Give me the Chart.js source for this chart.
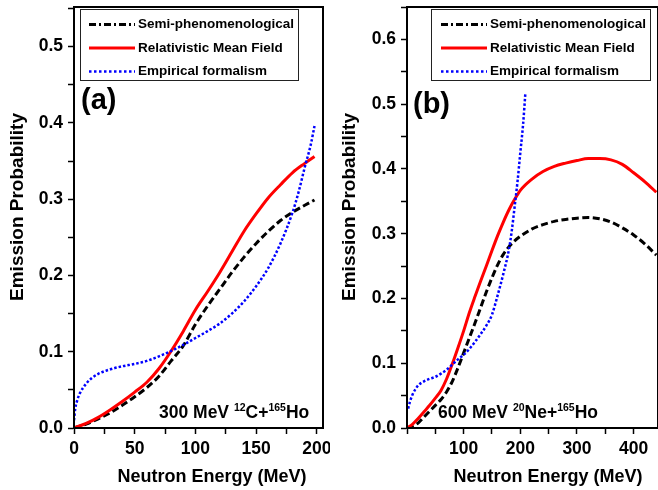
<!DOCTYPE html>
<html>
<head>
<meta charset="utf-8">
<script src="https://cdn.jsdelivr.net/npm/chart.js@4/dist/chart.umd.min.js"></script>
<style>
  html, body { margin: 0; padding: 0; background: #fff; }
  #wrap { position: relative; width: 658px; height: 490px; overflow: hidden; }
  canvas { position: absolute; top: 0; }
  #chartA { left: 0; }
  #chartB { left: 330px; }
</style>
</head>
<body>
<div id="wrap">
  <canvas id="chartA" width="330" height="490"></canvas>
  <canvas id="chartB" width="328" height="490"></canvas>
</div>
<script>
// panel (a) – 300 MeV 12C + 165Ho
const energyA = [0, 10, 20, 30, 40, 50, 60, 70, 80, 90, 100, 110, 120, 130, 140, 150, 160, 170, 180, 190, 198];
const semiA = [0, 0.005, 0.012, 0.020, 0.030, 0.041, 0.053, 0.068, 0.088, 0.108, 0.136, 0.160, 0.182, 0.204, 0.224, 0.242, 0.258, 0.272, 0.283, 0.292, 0.299];
const rmfA = [0, 0.006, 0.014, 0.024, 0.035, 0.047, 0.060, 0.078, 0.101, 0.127, 0.155, 0.179, 0.204, 0.231, 0.258, 0.281, 0.302, 0.319, 0.335, 0.347, 0.356];
const energyEmpA = [0, 1, 3, 5, 10, 15, 20, 30, 40, 50, 60, 70, 80, 90, 100, 110, 120, 130, 140, 150, 160, 170, 180, 185, 190, 195, 198];
const empA = [0.010, 0.025, 0.038, 0.046, 0.058, 0.066, 0.071, 0.077, 0.081, 0.084, 0.088, 0.094, 0.101, 0.109, 0.118, 0.127, 0.137, 0.150, 0.166, 0.186, 0.210, 0.242, 0.283, 0.310, 0.342, 0.372, 0.396];

// panel (b) – 600 MeV 20Ne + 165Ho
const energyB = [0, 10, 20, 30, 40, 50, 60, 70, 80, 90, 100, 110, 120, 130, 140, 150, 160, 170, 180, 190, 200, 220, 240, 260, 280, 300, 320, 340, 360, 380, 400, 420, 440];
const semiB = [0, 0.003, 0.008, 0.017, 0.026, 0.035, 0.044, 0.056, 0.072, 0.093, 0.116, 0.139, 0.162, 0.186, 0.210, 0.232, 0.252, 0.268, 0.280, 0.289, 0.296, 0.307, 0.314, 0.319, 0.322, 0.324, 0.325, 0.323, 0.318, 0.309, 0.298, 0.284, 0.267];
const rmfB = [0, 0.006, 0.015, 0.025, 0.035, 0.046, 0.058, 0.076, 0.099, 0.124, 0.150, 0.178, 0.203, 0.227, 0.250, 0.274, 0.297, 0.318, 0.337, 0.353, 0.367, 0.384, 0.396, 0.404, 0.409, 0.413, 0.416, 0.416, 0.414, 0.407, 0.394, 0.380, 0.364];
const energyEmpB = [2, 5, 10, 15, 20, 30, 40, 50, 60, 70, 80, 90, 100, 110, 120, 130, 140, 150, 160, 170, 180, 185, 190, 195, 200, 205, 209];
const empB = [0.030, 0.040, 0.052, 0.060, 0.066, 0.072, 0.076, 0.079, 0.084, 0.090, 0.098, 0.106, 0.113, 0.122, 0.133, 0.145, 0.158, 0.175, 0.205, 0.238, 0.276, 0.305, 0.342, 0.380, 0.425, 0.470, 0.518];

const seriesNames = ['Semi-phenomenological', 'Relativistic Mean Field', 'Empirical formalism'];
const xLabelsA = [0, 50, 100, 150, 200];
const xLabelsB = [100, 200, 300, 400];
const yLabelsA = [0, 0.1, 0.2, 0.3, 0.4, 0.5];
const yLabelsB = [0, 0.1, 0.2, 0.3, 0.4, 0.5, 0.6];

const FONT = "'Liberation Sans', Arial, sans-serif";
const styles = [
  { color: '#000000', width: 3, dash: [7, 3.5], legendDash: [7, 3, 2, 3] },
  { color: '#ff0000', width: 3, dash: [], legendDash: [] },
  { color: '#0000ff', width: 2.5, dash: [2.5, 2], legendDash: [2.5, 2.5] }
];

function pts(xs, ys) {
  return xs.map((x, i) => ({ x: x, y: ys[i] }));
}

function near(list, v) {
  return list.some(l => Math.abs(l - v) < 1e-6);
}

function onStep(step) {
  return scale => {
    scale.ticks = scale.ticks.filter(t => Math.abs(t.value / step - Math.round(t.value / step)) < 1e-6);
  };
}

function drawRich(ctx, x, y, parts) {
  for (const [txt, sup] of parts) {
    ctx.font = sup ? `bold 10.5px ${FONT}` : `bold 17.5px ${FONT}`;
    ctx.fillText(txt, x, sup ? y - 7.5 : y);
    x += ctx.measureText(txt).width;
  }
}

function decorPlugin(d) {
  return {
    id: 'decor',
    afterDraw(chart) {
      const ctx = chart.ctx;
      const a = chart.chartArea;
      ctx.save();
      ctx.strokeStyle = '#000';
      ctx.lineWidth = 2;
      ctx.strokeRect(a.left, a.top, a.right - a.left, a.bottom - a.top);

      // legend box
      ctx.fillStyle = '#fff';
      ctx.fillRect(d.legend.x, d.legend.y, d.legend.w, d.legend.h);
      ctx.lineWidth = 1;
      ctx.strokeStyle = '#222';
      ctx.strokeRect(d.legend.x + 0.5, d.legend.y + 0.5, d.legend.w, d.legend.h);
      ctx.textBaseline = 'middle';
      ctx.textAlign = 'left';
      ctx.font = `bold 13.5px ${FONT}`;
      seriesNames.forEach((name, i) => {
        const y = d.legend.rows[i];
        ctx.beginPath();
        ctx.setLineDash(styles[i].legendDash);
        ctx.strokeStyle = styles[i].color;
        ctx.lineWidth = i === 2 ? 2.5 : 3;
        ctx.moveTo(d.legend.lineX, y);
        ctx.lineTo(d.legend.lineX + 46, y);
        ctx.stroke();
        ctx.setLineDash([]);
        ctx.fillStyle = '#000';
        ctx.fillText(name, d.legend.textX, y);
      });

      // panel label
      ctx.textBaseline = 'alphabetic';
      ctx.fillStyle = '#000';
      ctx.font = `bold 29px ${FONT}`;
      ctx.fillText(d.tag, d.tagX, d.tagY);

      // reaction annotation
      drawRich(ctx, d.noteX, 418, d.note);

      // axis titles
      ctx.textAlign = 'center';
      ctx.textBaseline = 'middle';
      ctx.font = `bold 18px ${FONT}`;
      ctx.fillText('Neutron Energy (MeV)', d.xTitleX, 477);
      ctx.translate(d.yTitleX, 207);
      ctx.rotate(-Math.PI / 2);
      ctx.font = `bold 19px ${FONT}`;
      ctx.fillText('Emission Probability', 0, 0);
      ctx.restore();
    }
  };
}

function makeChart(id, p) {
  const tickFont = { family: FONT, size: 17.5, weight: 'bold' };
  return new Chart(document.getElementById(id), {
    type: 'line',
    data: {
      datasets: [
        { label: seriesNames[2], data: pts(p.empX, p.emp), order: 0 },
        { label: seriesNames[1], data: pts(p.x, p.rmf), order: 1 },
        { label: seriesNames[0], data: pts(p.x, p.semi), order: 2 }
      ].map(ds => {
        const s = styles[seriesNames.indexOf(ds.label)];
        return Object.assign(ds, {
          borderColor: s.color,
          borderWidth: s.width,
          borderDash: s.dash,
          pointRadius: 0,
          fill: false,
          cubicInterpolationMode: 'monotone'
        });
      })
    },
    options: {
      responsive: false,
      animation: false,
      layout: { padding: { top: 7, right: p.padRight, left: 0, bottom: 0 } },
      plugins: { legend: { display: false }, tooltip: { enabled: false } },
      scales: {
        x: {
          type: 'linear',
          min: 0,
          max: p.xMax,
          afterBuildTicks: onStep(p.xStep),
          afterFit: s => { s.height = 62; s.paddingLeft = 0; s.paddingRight = 0; },
          ticks: {
            stepSize: p.xStep,
            includeBounds: false,
            autoSkip: false,
            maxRotation: 0,
            color: '#000',
            font: tickFont,
            padding: 5,
            callback: v => near(p.xLabels, v) ? String(Math.round(v)) : ''
          },
          grid: { drawOnChartArea: false, tickLength: 6, tickWidth: 1.5, tickColor: '#000' },
          border: { color: '#000', width: 2 }
        },
        y: {
          min: 0,
          max: p.yMax,
          afterBuildTicks: onStep(0.05),
          afterFit: s => { s.width = p.yWidth; s.paddingTop = 0; s.paddingBottom = 0; },
          ticks: {
            stepSize: 0.05,
            includeBounds: false,
            autoSkip: false,
            color: '#000',
            font: tickFont,
            padding: 5,
            callback: v => near(p.yLabels, v) ? v.toFixed(1) : ''
          },
          grid: { drawOnChartArea: false, tickLength: 6, tickWidth: 1.5, tickColor: '#000' },
          border: { color: '#000', width: 2 }
        }
      }
    },
    plugins: [decorPlugin(p.decor)]
  });
}

makeChart('chartA', {
  x: energyA, semi: semiA, rmf: rmfA, empX: energyEmpA, emp: empA,
  xMax: 205, xStep: 25, xLabels: xLabelsA, yMax: 0.552, yLabels: yLabelsA,
  yWidth: 74, padRight: 7,
  decor: {
    legend: { x: 80, y: 9, w: 218, h: 71, rows: [24.5, 48, 71.5], lineX: 89, textX: 138 },
    tag: '(a)', tagX: 81, tagY: 109,
    note: [['300 MeV ', false], ['12', true], ['C+', false], ['165', true], ['Ho', false]], noteX: 159,
    xTitleX: 212, yTitleX: 18
  }
});

makeChart('chartB', {
  x: energyB, semi: semiB, rmf: rmfB, empX: energyEmpB, emp: empB,
  xMax: 443, xStep: 50, xLabels: xLabelsB, yMax: 0.65, yLabels: yLabelsB,
  yWidth: 77, padRight: 0,
  decor: {
    legend: { x: 101, y: 9, w: 219, h: 71, rows: [24.5, 48, 71.5], lineX: 111, textX: 160 },
    tag: '(b)', tagX: 83, tagY: 113,
    note: [['600 MeV ', false], ['20', true], ['Ne+', false], ['165', true], ['Ho', false]], noteX: 108,
    xTitleX: 218, yTitleX: 20
  }
});
</script>
</body>
</html>
